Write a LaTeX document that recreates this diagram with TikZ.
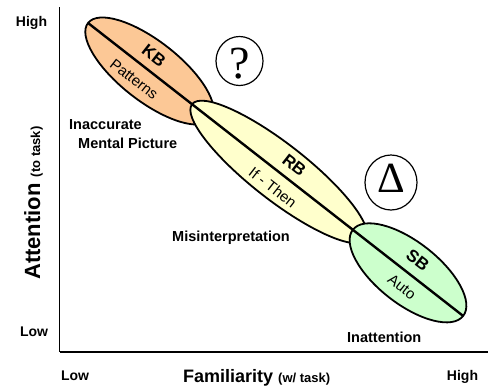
\documentclass[tikz,border=0pt]{standalone}
\usepackage{fontspec}
\setmainfont{Liberation Sans}
\newfontfamily\glyphfont{Liberation Serif}
\usetikzlibrary{calc,shapes.geometric}
\definecolor{kbfill}{RGB}{252,200,150}
\definecolor{rbfill}{RGB}{255,255,204}
\definecolor{sbfill}{RGB}{204,255,204}
\newcommand{\fsz}[1]{\fontsize{#1}{#1}\selectfont}

\begin{document}
\begin{tikzpicture}[x=1pt, y=-1pt,
    blob/.style={ellipse, draw, line width=1.8pt, inner sep=0pt, outer sep=0pt, rotate=-38},
    ring/.style={ellipse, draw, line width=1.2pt, inner sep=0pt},
    glyph/.style={font=\glyphfont\fsz{46}, inner sep=0pt},
    tag/.style={font=\bfseries\fsz{14.5}, anchor=base west, inner sep=0pt},
    level/.style={font=\bfseries\fsz{14}, anchor=base, inner sep=0pt},
    mode/.style={font=\bfseries\fsz{17}, inner sep=0pt},
    hint/.style={font=\fsz{15}, inner sep=0pt}]
  \useasboundingbox (0,0) rectangle (495,389);

  % axes
  \coordinate (ytop) at (59.5,7);
  \coordinate (origin) at (59.5,352);
  \coordinate (xend) at (488,352);
  \draw[line width=1pt] (ytop) -- (origin);
  \draw[line width=1.6pt] (origin) -- (xend);

  \node[level] (yhigh) at (31.5,26) {High};
  \node[level] (ylow) at (34,336) {Low};
  \node[level] (xlow) at (75,380) {Low};
  \node[level] (xhigh) at (462.5,380) {High};
  \node[anchor=base west, inner sep=0pt] (xname) at (183,382)
    {\bfseries\fsz{18}Familiarity \fsz{13}(w/ task)};
  \node[anchor=base west, inner sep=0pt, rotate=90] (yname) at (40,280)
    {\bfseries\fsz{22}Attention \fsz{13}(to task)};

  % the three modes along the diagonal
  \coordinate (start) at (88,23);
  \coordinate (stop) at (462,315);
  \node[blob, fill=kbfill, minimum width=156pt, minimum height=60pt] (kb) at ($(start)!0.1644!(stop)$) {};
  \node[blob, fill=rbfill, minimum width=220pt, minimum height=56pt] (rb) at ($(start)!0.51!(stop)$) {};
  \node[blob, fill=sbfill, minimum width=140pt, minimum height=62pt] (sb) at ($(start)!0.8556!(stop)$) {};
  \draw[line width=2.4pt] (kb.west) -- (sb.east);

  \begin{scope}[shift={(kb.center)}, rotate=-38, transform shape]
    \node[mode] (kbname) at (-6,-15) {KB};
    \node[hint] (kbhint) at (-7,16) {Patterns};
  \end{scope}
  \begin{scope}[shift={(rb.center)}, rotate=-38, transform shape]
    \node[mode] (rbname) at (8,-15) {RB};
    \node[hint] (rbhint) at (5,16) {If - Then};
  \end{scope}
  \begin{scope}[shift={(sb.center)}, rotate=-38, transform shape]
    \node[mode] (sbname) at (0,-16) {SB};
    \node[hint] (sbhint) at (4,15) {Auto};
  \end{scope}

  % error types
  \node[tag] (inacc) at (69,129) {Inaccurate};
  \node[tag] (mental) at (78,148) {Mental Picture};
  \node[tag] (misint) at (172,241) {Misinterpretation};
  \node[tag] (inatt) at (347,342) {Inattention};

  % marks
  \node[ring, minimum width=47pt, minimum height=49pt] (query) at (239.5,61) {};
  \node[glyph] (qmark) at ([yshift=-2.5pt]query.center) {?};
  \node[ring, minimum width=52pt, minimum height=55pt] (change) at (391,182.5) {};
  \node[glyph, font=\glyphfont\fsz{43}] (dmark) at ([yshift=4.5pt]change.center) {Δ};
\end{tikzpicture}
\end{document}
